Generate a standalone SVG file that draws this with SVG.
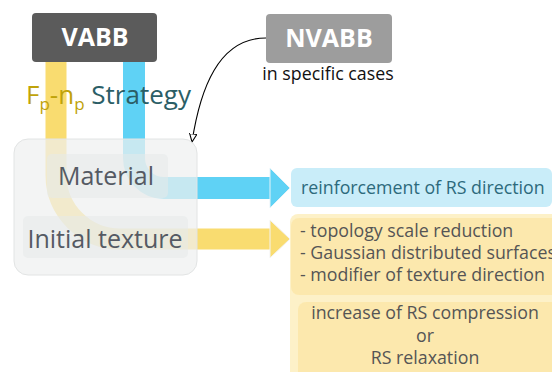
<svg xmlns="http://www.w3.org/2000/svg" width="552" height="372" viewBox="0 0 552 372">
<defs>
<style>
.t{font-family:"Open Sans","Noto Sans","DejaVu Sans",sans-serif}
.hdr{font-weight:bold;fill:#ffffff;font-size:25px;text-anchor:middle}
.lab{fill:#555a63;font-size:25px}
.itm{fill:#555555;font-size:17.8px}
</style>
<marker id="ah" viewBox="0 0 10 10" refX="9" refY="5" markerWidth="9" markerHeight="9" orient="auto" markerUnits="userSpaceOnUse">
<path d="M0,1 L9,5 L0,9 Z" fill="#fff" stroke="#000" stroke-width="1.2"/>
</marker>
</defs>
<rect width="552" height="372" fill="#ffffff"/>
<g id="connectors">
<path d="M56,62 V175 A64,64 0 0 0 120,239 H272" fill="none" stroke="#f9dc70" stroke-width="21"/>
<path d="M270,220 L290,239 L270,258 Z" fill="#f9dc70" stroke="#f3f3f3" stroke-width="1"/>
<path d="M134,62 V158 A30,30 0 0 0 164,188 H272" fill="none" stroke="#5fd2f5" stroke-width="22"/>
<path d="M270,168 L290,188 L270,208 Z" fill="#5fd2f5" stroke="#e6f3f8" stroke-width="1"/>
<path d="M266,38 C218,38 200,90 192,142" fill="none" stroke="#000" stroke-width="1.1" marker-end="url(#ah)"/>
</g>
<g id="strategy">
<rect x="14" y="139" width="183" height="136" rx="14" fill="#eef0f0" fill-opacity="0.72" stroke="#e2e4e4" stroke-width="1"/>
</g>
<g id="material">
<rect x="47" y="154" width="121" height="44" rx="5" fill="#e6e9ea" fill-opacity="0.55"/>
<text class="t lab" x="106" y="185" text-anchor="middle">Material</text>
</g>
<g id="texture">
<rect x="23" y="216" width="165" height="42" rx="5" fill="#e6e9ea" fill-opacity="0.55"/>
<text class="t lab" x="105" y="248" text-anchor="middle">Initial texture</text>
</g>
<g id="vabb">
<rect x="32" y="13" width="125" height="49" rx="4" fill="#5b5b5b"/>
<text class="t hdr" x="95" y="46">VABB</text>
</g>
<g id="nvabb">
<rect x="266" y="14" width="126" height="49" rx="4" fill="#9d9d9d"/>
<text class="t hdr" x="329" y="47">NVABB</text>
<text class="t" x="328" y="80" font-size="17.8" fill="#111" text-anchor="middle">in specific cases</text>
</g>
<g id="label">
<text class="t" x="26" y="104" font-size="26"><tspan fill="#c0a30a">F</tspan><tspan fill="#c0a30a" font-size="17" dy="6">p</tspan><tspan fill="#c0a30a" dy="-6">-n</tspan><tspan fill="#c0a30a" font-size="17" dy="6">p</tspan><tspan fill="#2b5e66" dy="-6"> Strategy</tspan></text>
</g>
<g id="rs-direction">
<rect x="291" y="168" width="261" height="39" rx="6" fill="#c9edf9"/>
<text class="t" x="301" y="194" font-size="17.8" fill="#2d6a7c">reinforcement of RS direction</text>
</g>
<g id="texture-effects">
<rect x="290" y="214" width="270" height="170" rx="8" fill="#fdf1c8"/>
<rect x="291" y="218" width="270" height="77" rx="8" fill="#fbe6a6" fill-opacity="0.8"/>
<text class="t itm" x="300" y="237">- topology scale reduction</text>
<text class="t itm" x="300" y="259">- Gaussian distributed surfaces</text>
<text class="t itm" x="300" y="281">- modifier of texture direction</text>
<rect x="298" y="302" width="262" height="80" rx="8" fill="#fbe6a6" fill-opacity="0.8"/>
<text class="t itm" x="425" y="319" text-anchor="middle">increase of RS compression</text>
<text class="t itm" x="425" y="342" text-anchor="middle">or</text>
<text class="t itm" x="425" y="364" text-anchor="middle">RS relaxation</text>
</g>
</svg>
